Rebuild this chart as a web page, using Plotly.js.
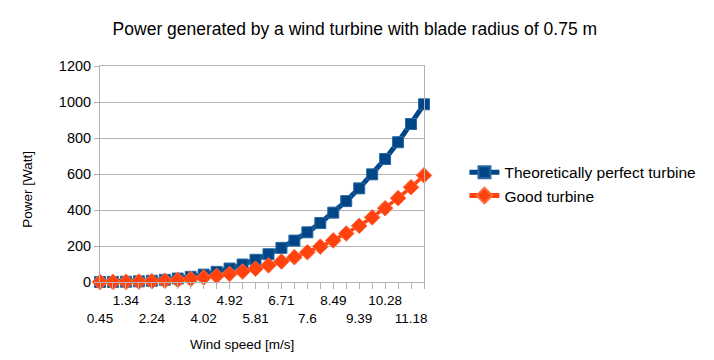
<!DOCTYPE html>
<html>
<head>
<meta charset="utf-8">
<script src="https://cdn.plot.ly/plotly-3.0.1.min.js"></script>
<style>html,body{margin:0;padding:0;background:#fff;}#chart{width:714px;height:360px;}</style>
</head>
<body>
<div id="chart"></div>
<script>
// Wind speed categories [m/s]
const speeds = ['0.45','0.89','1.34','1.79','2.24','2.68','3.13','3.58','4.02','4.47','4.92','5.36','5.81','6.26','6.71','7.15','7.6','8.05','8.49','8.94','9.39','9.83','10.28','10.73','11.18','11.62'];
// Power [Watt]
const perfectTurbine = [0.06,0.45,1.52,3.59,7.02,12.1,19.3,28.8,41.0,56.2,74.8,97.1,123.4,154.1,189.6,230.1,276.0,327.6,385.3,449.4,520.2,598.1,683.4,776.5,877.7,987.2];
const goodTurbine = [0.03,0.27,0.91,2.16,4.21,7.28,11.6,17.3,24.6,33.7,44.9,58.2,74.0,92.5,113.7,138.0,165.6,196.5,231.2,269.6,312.1,358.9,410.0,465.9,526.6,592.3];
const seriesNames = ['Theoretically perfect turbine','Good turbine'];
const yTicks = [0,200,400,600,800,1000,1200];

// x tick labels: every second category, staggered in two rows
const xTickText = speeds.map((s, i) => {
  if (i % 2 !== 0) return '';
  return (i % 4 === 0) ? '<br>' + s : s;
});

const FONT = 'Liberation Sans, Arial, sans-serif';
const L = 100, R = 289.5, T = 66, B = 77.5;
const PW = 714 - L - R, PH = 360 - T - B;
const px = x => (x - L) / PW;
const py = y => (360 - B - y) / PH;

const traces = [
  {
    x: speeds, y: perfectTurbine, name: seriesNames[0], type: 'scatter', mode: 'lines+markers',
    line: {color: '#004586', width: 5},
    marker: {symbol: 'square', size: 11, color: '#004586', line: {color: '#2a6aa3', width: 1}},
    cliponaxis: false, legendgroup: 'a'
  },
  {
    x: speeds, y: goodTurbine, name: seriesNames[1], type: 'scatter', mode: 'lines+markers',
    line: {color: '#ff420e', width: 3.5},
    marker: {symbol: 'diamond', size: 12, color: '#ff420e', line: {color: '#ff6a3f', width: 1}},
    cliponaxis: false, legendgroup: 'b'
  }
];

const layout = {
  width: 714, height: 360,
  margin: {l: L, r: R, t: T, b: B, pad: 0},
  paper_bgcolor: '#ffffff', plot_bgcolor: '#ffffff',
  font: {family: FONT, color: '#000000', size: 14},
  title: {text: 'Power generated by a wind turbine with blade radius of 0.75 m',
          font: {family: FONT, size: 17.5, color: '#000'},
          x: 0.497, xref: 'container', xanchor: 'center', y: 1 - 29/360, yref: 'container', yanchor: 'middle'},
  xaxis: {
    type: 'category', range: [0, speeds.length - 1],
    tickmode: 'array', tickvals: speeds, ticktext: xTickText, tickangle: 0,
    ticks: 'outside', ticklen: 6, tickcolor: '#b3b3b3', tickwidth: 1,
    showgrid: false, showline: true, linecolor: '#b3b3b3', linewidth: 1, mirror: true,
    zeroline: false, tickfont: {family: FONT, size: 13.5, color: '#000'}, fixedrange: true
  },
  yaxis: {
    range: [0, 1200], tickmode: 'array', tickvals: yTicks, ticktext: yTicks.map(String),
    ticks: 'outside', ticklen: 5, tickcolor: '#b3b3b3', tickwidth: 1,
    showgrid: true, gridcolor: '#b3b3b3', gridwidth: 1,
    showline: true, linecolor: '#b3b3b3', linewidth: 1, mirror: true,
    zeroline: false, tickfont: {family: FONT, size: 14.5, color: '#000'}, fixedrange: true
  },
  legend: {
    x: px(465), xanchor: 'left', y: py(156), yanchor: 'top',
    font: {family: FONT, size: 15.5, color: '#000'}, bgcolor: 'rgba(0,0,0,0)',
    tracegroupgap: 0, itemsizing: 'constant'
  },
  showlegend: true,
  annotations: [
    {text: 'Power [Watt]', xref: 'paper', yref: 'paper', x: px(28), y: py(190), textangle: -90,
     showarrow: false, xanchor: 'center', yanchor: 'middle', font: {family: FONT, size: 13.5, color: '#000'}},
    {text: 'Wind speed [m/s]', xref: 'paper', yref: 'paper', x: px(242), y: py(345),
     showarrow: false, xanchor: 'center', yanchor: 'middle', font: {family: FONT, size: 13.5, color: '#000'}}
  ]
};

Plotly.newPlot('chart', traces, layout, {displayModeBar: false, staticPlot: true});
</script>
</body>
</html>
